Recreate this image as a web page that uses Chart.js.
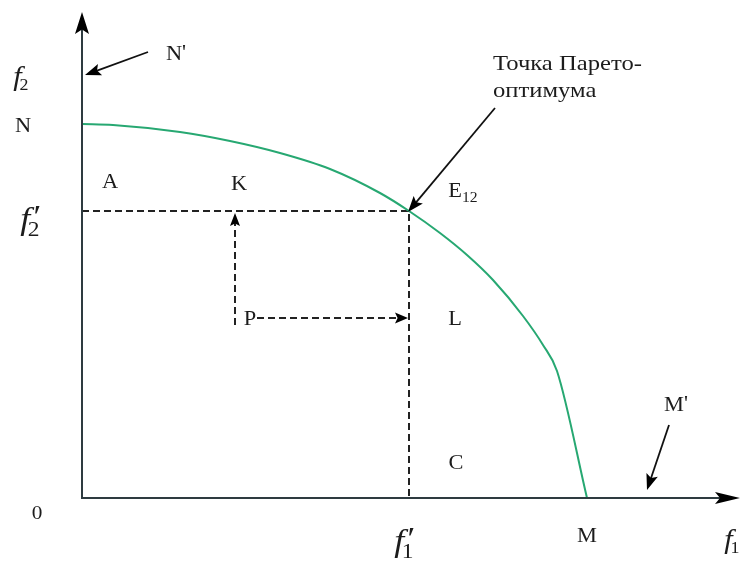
<!DOCTYPE html>
<html>
<head>
<meta charset="utf-8">
<script src="https://cdn.jsdelivr.net/npm/chart.js@4.4.1/dist/chart.umd.min.js"></script>
<style>
html,body{margin:0;padding:0;background:#fff;}
#wrap{width:745px;height:561px;}
</style>
</head>
<body>
<div id="wrap"><canvas id="c" width="745" height="561"></canvas></div>
<script>
// Pareto front (f1, f2)
const curveF1 = [0, 31, 98, 148, 198, 248, 298, 327, 358, 385, 411, 441, 461, 475, 505];
const curveF2 = [374, 373, 366, 357, 345, 329, 305, 287, 265, 243, 218, 182, 153, 127, 0];
// Pareto-optimal point E12 (f1', f2')
const optF1 = 327;
const optF2 = 287;
// point P
const pF1 = 153;
const pF2 = 180;
// axis extents
const f1Max = 658;
const f2Max = 486;

const curve = curveF1.map((x, i) => ({x, y: curveF2[i]}));

// text annotations: [text, sub, prime, italic, size, subSize, f1, f2, align]
const labels = [
  ["N", "", true, false, 20, 0, 94, 443, "center"],
  ["f", "2", false, true, 27, 16, -60, 420, "center"],
  ["N", "", false, false, 20, 0, -59, 371, "center"],
  ["A", "", false, false, 20, 0, 28, 315, "center"],
  ["K", "", false, false, 20, 0, 157, 313, "center"],
  ["f", "2", true, true, 32, 21, -51, 277, "center"],
  ["E", "12", false, false, 20, 14, 381, 306, "center"],
  ["Точка Парето-", "", false, false, 22, 0, 411, 434, "left"],
  ["оптимума", "", false, false, 22, 0, 411, 407, "left"],
  ["P", "", false, false, 20, 0, 168, 178, "center"],
  ["L", "", false, false, 20, 0, 373, 178, "center"],
  ["C", "", false, false, 20, 0, 374, 34, "center"],
  ["M", "", true, false, 20, 0, 594, 92, "center"],
  ["0", "", false, false, 19, 0, -45, -16, "center"],
  ["f", "1", true, true, 32, 21, 323, -45, "center"],
  ["M", "", false, false, 20, 0, 505, -39, "center"],
  ["f", "1", false, true, 27, 16, 651, -43, "center"]
];

// solid pointer arrows [fromF1, fromF2, toF1, toF2]
const pointers = [
  [66, 446, 3, 423],
  [413, 390, 326, 286],
  [587, 73, 565, 8]
];

const INK = "#1c1c1c";
const AXIS = "#2e3b40";
const SX = 1.12;

function head(ctx, x0, y0, x1, y1, len, wid, color) {
  const a = Math.atan2(y1 - y0, x1 - x0);
  ctx.save();
  ctx.translate(x1, y1);
  ctx.rotate(a);
  ctx.beginPath();
  ctx.moveTo(0, 0);
  ctx.lineTo(-len, -wid / 2);
  ctx.lineTo(-len * 0.8, 0);
  ctx.lineTo(-len, wid / 2);
  ctx.closePath();
  ctx.fillStyle = color;
  ctx.fill();
  ctx.restore();
}

const drawPlugin = {
  id: "drawPlugin",
  afterDatasetsDraw(chart) {
    const ctx = chart.ctx;
    const xs = chart.scales.x, ys = chart.scales.y;
    const X = v => xs.getPixelForValue(v);
    const Y = v => ys.getPixelForValue(v);
    ctx.save();
    // axes
    ctx.strokeStyle = AXIS;
    ctx.lineWidth = 2;
    ctx.beginPath();
    ctx.moveTo(X(0), Y(f2Max) + 12);
    ctx.lineTo(X(0), Y(0));
    ctx.lineTo(X(f1Max) - 12, Y(0));
    ctx.stroke();
    head(ctx, X(0), Y(0), X(0), Y(f2Max), 22, 14, "#000");
    head(ctx, X(0), Y(0), X(f1Max), Y(0), 25, 12, "#000");
    // dashed arrow heads
    head(ctx, X(pF1), Y(pF2 - 7), X(pF1), Y(optF2 - 2), 13, 10, "#000");
    head(ctx, X(pF1 + 22), Y(pF2), X(optF1 - 1), Y(pF2), 13, 11, "#000");
    // pointers
    ctx.strokeStyle = "#111";
    ctx.lineWidth = 1.8;
    pointers.forEach(p => {
      const x0 = X(p[0]), y0 = Y(p[1]), x1 = X(p[2]), y1 = Y(p[3]);
      const a = Math.atan2(y1 - y0, x1 - x0);
      ctx.beginPath();
      ctx.moveTo(x0, y0);
      ctx.lineTo(x1 - Math.cos(a) * 10, y1 - Math.sin(a) * 10);
      ctx.stroke();
      head(ctx, x0, y0, x1, y1, 16, 12, "#000");
    });
    // labels
    ctx.fillStyle = INK;
    ctx.textBaseline = "middle";
    labels.forEach(l => {
      const [text, sub, prime, italic, size, subSize, fx, fy, align] = l;
      const font = (italic ? "italic " : "") + size + 'px "Liberation Serif", "Times New Roman", serif';
      const subFont = subSize + 'px "Liberation Serif", serif';
      ctx.font = font;
      const wMain = ctx.measureText(text).width;
      const primeStr = prime ? (italic ? "\u2032" : "'") : "";
      const wPrime = prime ? ctx.measureText(primeStr).width : 0;
      ctx.font = subFont;
      const wSub = sub ? ctx.measureText(sub).width : 0;
      let total = wMain + (italic && prime ? Math.max(wPrime, wSub) : wPrime + wSub);
      total *= SX;
      let px = X(fx), py = Y(fy);
      let left = align === "left" ? px : px - total / 2;
      ctx.save();
      ctx.translate(left, py);
      ctx.scale(SX, 1);
      ctx.font = font;
      ctx.fillText(text, 0, 0);
      let cx = wMain;
      if (prime) {
        ctx.fillText(primeStr, cx + (italic ? 1 : 0), italic ? -size * 0.08 : -size * 0.05);
        if (!italic) cx += wPrime;
      }
      if (sub) {
        ctx.font = subFont;
        ctx.fillText(sub, cx - (italic ? 2 : 0), size * 0.3);
      }
      ctx.restore();
    });
    ctx.restore();
  }
};

new Chart(document.getElementById("c"), {
  type: "scatter",
  data: {
    datasets: [
      {
        data: curve,
        showLine: true,
        borderColor: "#27a872",
        borderWidth: 2,
        pointRadius: 0,
        cubicInterpolationMode: "monotone",
        fill: false
      },
      {
        data: [{x: 0, y: optF2}, {x: optF1, y: optF2}, {x: optF1, y: 0}],
        showLine: true,
        borderColor: "#222",
        borderWidth: 2,
        borderDash: [7, 4],
        pointRadius: 0,
        tension: 0
      },
      {
        data: [{x: pF1, y: pF2 - 7}, {x: pF1, y: optF2 - 12}],
        showLine: true,
        borderColor: "#222",
        borderWidth: 2,
        borderDash: [7, 4],
        pointRadius: 0
      },
      {
        data: [{x: pF1 + 22, y: pF2}, {x: optF1 - 12, y: pF2}],
        showLine: true,
        borderColor: "#222",
        borderWidth: 2,
        borderDash: [7, 4],
        pointRadius: 0
      }
    ]
  },
  options: {
    responsive: false,
    animation: false,
    layout: {padding: {left: 82, right: 5, top: 12, bottom: 63}},
    plugins: {legend: {display: false}, tooltip: {enabled: false}},
    scales: {
      x: {type: "linear", min: 0, max: f1Max, display: false},
      y: {type: "linear", min: 0, max: f2Max, display: false}
    }
  },
  plugins: [drawPlugin]
});
</script>
</body>
</html>
